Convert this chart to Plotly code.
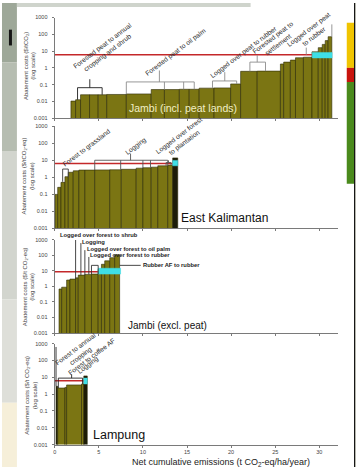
import numpy as np
import plotly.graph_objects as go

# ---------------- data ----------------
# Panel 1: Jambi (incl. peat lands) - bar edges (cumulative t CO2-eq/ha/yr) and abatement cost ($/t)
jambi_peat_edges = [1.84, 2.37, 2.93, 3.95, 4.93, 5.90, 8.12, 10.94, 12.44, 14.13, 15.25, 16.38,
                    18.07, 19.95, 21.08, 22.96, 25.59, 25.96, 26.72, 27.3, 28.2, 29.17, 29.88,
                    30.33, 30.67, 31.0, 31.42]
jambi_peat_costs = [0.0105, 0.0126, 0.025, 0.025, 0.025, 0.026, 0.028, 0.051, 0.051, 0.053, 0.053,
                    0.062, 0.064, 0.11, 0.62, 0.64, 1.7, 2.2, 2.9, 4.0, 4.3, 9.0, 16, 25, 42, 72]

# Panel 2: East Kalimantan
ekal_edges = [0.04, 0.34, 0.71, 1.16, 1.54, 2.1, 2.74, 3.42, 4.54, 6.24, 7.55, 9.24, 10.0,
              10.94, 11.69, 12.82, 13.38, 13.95]
ekal_costs = [0.1, 0.26, 0.51, 1.1, 2.0, 2.45, 2.7, 2.7, 2.75, 2.8, 3.0, 3.5, 3.7, 4.0, 4.8, 5.3, 14]

# Panel 3: Jambi (excl. peat)
jambi_excl_edges = [0.49, 0.79, 1.35, 1.73, 2.37, 2.67, 3.42, 4.17, 4.93, 5.30, 5.67, 6.24, 6.80, 7.36]
jambi_excl_costs = [0.69, 0.9, 2.6, 3.0, 3.6, 5.4, 6.0, 6.3, 13, 27, 45, 72, 110]

# Panel 4: Lampung
lampung_edges = [0.15, 0.34, 1.16, 1.35, 3.04, 3.3, 3.69]
lampung_costs = [2.9, 2.3, 2.5, 3.5, 4.0, 12]

# carbon-price reference line per panel: (cost level, end of line on x)
price_level = [6.1, 6.5, 8.9, 6.2]
price_end = [29.17, 13.38, 4.93, 3.3]

# cyan highlighted boxes: (x0, x1, y0, y1)
cyan_boxes = [(29.2, 31.45, 3.9, 8.3), (13.38, 13.95, 4.8, 10), (4.93, 7.47, 6.3, 15), (3.3, 3.69, 4.0, 8.9)]

region_names = ["Jambi (incl. peat lands)", "East Kalimantan", "Jambi (excl. peat)", "Lampung"]

y_tick_vals = [0.001, 0.01, 0.1, 1, 10, 100, 1000]
y_tick_text = ["0.001", "0.01", "0.1", "1", "10", "100", "1000"]
x_tick_vals = [0, 5, 10, 15, 20, 25, 30]

# ---------------- styling ----------------
W, H = 356, 470
OLIVE = '#7b7513'
EDGE = '#2b2a05'
DARKBAR = '#1c1c08'
RED = '#c4282a'
CYAN = '#3fdfe6'
GRAY = '#8c8c8c'
BLK = '#2a2a2a'
FONT = 'Liberation Sans, Arial, sans-serif'
AX = '#7a7a7a'

XL, XR = 53, 338
XMAX = (XR - XL) / 8.87
panel_px = [(14.7, 116.7), (125, 228.3), (240, 334.3), (345, 447.3)]
dark_bars = {1: [16], 3: [0, 5]}

edges_all = [jambi_peat_edges, ekal_edges, jambi_excl_edges, lampung_edges]
costs_all = [jambi_peat_costs, ekal_costs, jambi_excl_costs, lampung_costs]

fig = go.Figure()
layout = dict(width=W, height=H, margin=dict(l=0, r=0, t=0, b=0), autosize=False,
              paper_bgcolor='white', plot_bgcolor='rgba(0,0,0,0)', showlegend=False,
              barmode='overlay', font=dict(family=FONT, color=BLK))

def ax_names(i):
    s = '' if i == 0 else str(i + 1)
    return 'x' + s, 'y' + s, 'xaxis' + s, 'yaxis' + s

for i, (top, bot) in enumerate(panel_px):
    xn, yn, xk, yk = ax_names(i)
    layout[xk] = dict(domain=[XL / W, XR / W], range=[0, XMAX], anchor=yn, showline=True,
                      linecolor=AX, linewidth=1.2, ticks='outside', ticklen=2, tickcolor=AX,
                      tickvals=x_tick_vals, showticklabels=(i == 3), tickfont=dict(size=5.5, color='#444'),
                      showgrid=False, zeroline=False, fixedrange=True)
    layout[yk] = dict(domain=[1 - bot / H, 1 - top / H], type='log', range=[-3, 3], anchor=xn,
                      showline=True, linecolor=AX, linewidth=1.2, ticks='outside', ticklen=2,
                      tickcolor=AX, tickvals=y_tick_vals, ticktext=y_tick_text,
                      tickfont=dict(size=5.5, color='#444'), ticklabelstandoff=3,
                      showgrid=False, zeroline=False, fixedrange=True)
    e = np.array(edges_all[i], dtype=float)
    c = list(costs_all[i])
    cols = [DARKBAR if k in dark_bars.get(i, []) else OLIVE for k in range(len(c))]
    fig.add_trace(go.Bar(x=e[:-1], y=c, width=np.diff(e), offset=0,
                         marker=dict(color=cols, line=dict(color=EDGE, width=0.6)),
                         xaxis=xn, yaxis=yn, hoverinfo='skip'))
    # price line
    fig.add_trace(go.Scatter(x=[0, price_end[i]], y=[price_level[i]] * 2, mode='lines',
                             line=dict(color=RED, width=1.4), xaxis=xn, yaxis=yn, hoverinfo='skip'))
    # cyan box
    x0, x1, y0, y1 = cyan_boxes[i]
    fig.add_trace(go.Scatter(x=[x0, x1, x1, x0, x0], y=[y0, y0, y1, y1, y0], mode='lines',
                             fill='toself', fillcolor=CYAN, line=dict(color=CYAN, width=0.5),
                             xaxis=xn, yaxis=yn, hoverinfo='skip'))

# ---------------- brackets & leaders ----------------
def bracket(legs, bottoms, top, stem=None):
    xs, ys = [legs[0], legs[-1], None], [top, top, None]
    for lx, b in zip(legs, bottoms):
        xs += [lx, lx, None]
        ys += [b, top, None]
    if stem:
        xs += [stem[0], stem[0], None]
        ys += [top, stem[1], None]
    return xs, ys

brackets = [
    (0, bracket([2.59, 5.38], [0.0126, 0.025], 0.066, (3.98, 0.21)), '#1e1e1e'),
    (0, bracket([8.12, 12.44, 14.62, 15.82], [0.027, 0.051, 0.053, 0.053], 0.145, (11.87, 0.7)), GRAY),
    (0, bracket([17.89, 20.63], [0.064, 0.11], 0.166, (19.28, 0.56)), GRAY),
    (0, bracket([22.13, 23.9], [0.62, 0.64], 2.2, (22.96, 5.8)), GRAY),
    (0, ([28.52, 28.52, None, 31.42, 31.42], [6.1, 16, None, 72, 390]), GRAY),
    (1, bracket([0.9, 1.54], [0.55, 1.1], 3.1), '#3a3a3a'),
    (1, bracket([4.54, 7.48, 10.0, 10.86, 12.82], [2.7, 2.8, 3.5, 3.7, 4.8], 10.2, (8.6, 25)), '#555555'),
    (1, bracket([12.63, 13.19], [4.8, 5.3], 7.5, (12.9, 10)), '#555555'),
    (2, bracket([4.17, 4.93], [6.3, 6.3], 23), '#333333'),
    (2, ([2.37, 2.37, None, 2.97, 2.97, None, 3.42, 3.42, None, 3.87, 3.87, None, 7.36, 9.75],
         [1000, 3.0, None, 630, 5.4, None, 220, 5.4, None, 80, 6.0, None, 23, 23]), '#333333'),
    (3, bracket([0.41, 3.16], [2.3, 4.0], 8.9, (1.92, 15)), '#222222'),
    (3, ([0.15, 0.15], [2.9, 630]), '#222222'),
]
for i, (xs, ys), col in brackets:
    xn, yn, _, _ = ax_names(i)
    fig.add_trace(go.Scatter(x=xs, y=ys, mode='lines', line=dict(color=col, width=0.9),
                             xaxis=xn, yaxis=yn, hoverinfo='skip'))

# ---------------- text ----------------
ann = []
def rot(i, text, x, ylog, size=6.7, angle=-37):
    xn, yn, _, _ = ax_names(i)
    ann.append(dict(text=text, x=x, y=ylog, xref=xn, yref=yn, showarrow=False, textangle=angle,
                    xanchor='center', yanchor='middle',
                    font=dict(size=size, color='#2a2a2a', family=FONT)))

rot(0, "Forested peat to annual<br>cropping and shrub", 5.75, 1.08)
rot(0, "Forested peat to oil palm", 13.75, 0.92)
rot(0, "Logged over peat to rubber", 21.46, 0.95)
rot(0, "Forested peat to<br>settlement", 25.03, 1.61)
rot(0, "Logged over peat<br>to rubber", 29.05, 2.1)
rot(1, "Forest to grassland", 3.61, 1.74)
rot(1, "Logging", 9.24, 1.84)
rot(1, "Logged over forest<br>to plantation", 14.4, 2.23)
rot(3, "Forest to annual<br>cropping", 2.74, 2.47)
rot(3, "Forest to coffee AF", 4.17, 2.26)
rot(3, "Logging", 3.8, 1.73)

def flat(i, text, x, ylog):
    xn, yn, _, _ = ax_names(i)
    ann.append(dict(text=text, x=x, y=ylog, xref=xn, yref=yn, showarrow=False, xanchor='left',
                    yanchor='middle', font=dict(size=5.8, color='#222', family=FONT)))

# top label sits above the panel's range, so place it in paper units
ann.append(dict(text="<b>Logged over forest to shrub</b>", x=0.34, xref='x3', y=1 - 234.5 / H, yref='paper',
                showarrow=False, xanchor='left', yanchor='middle',
                font=dict(size=5.8, color='#222', family=FONT)))
flat(2, "<b>Logging</b>", 2.85, 2.88)
flat(2, "<b>Logged over forest to oil palm</b>", 3.42, 2.43)
flat(2, "<b>Logged over forest to rubber</b>", 3.8, 2.0)
flat(2, "<b>Rubber AF to rubber</b>", 9.8, 1.37)

region_pos = [(8.23, -2.41, 10.5, '#f1efc6'), (14.1, -2.4, 12, '#111'), (8.1, -2.52, 10, '#111'),
              (4.17, -2.41, 12.5, '#111')]
for i, name in enumerate(region_names):
    xn, yn, _, _ = ax_names(i)
    x, ylog, sz, col = region_pos[i]
    ann.append(dict(text=name, x=x, y=ylog, xref=xn, yref=yn, showarrow=False, xanchor='left',
                    yanchor='middle', font=dict(size=sz, color=col, family=FONT)))

ytitles = ["Abatement costs ($/tCO<sub>2</sub>)<br>(log scale)",
           "Abatement costs ($/tCO<sub>2</sub>-eq)<br>(log scale)",
           "Abatement costs ($/t CO<sub>2</sub>-eq)<br>(log scale)",
           "Abatement costs ($/t CO<sub>2</sub>-eq)<br>(log scale)"]
ytitle_px = [(28, 64), (26, 175), (27, 287), (29, 397)]
for t, (px, py) in zip(ytitles, ytitle_px):
    ann.append(dict(text=t, x=px / W, y=1 - py / H, xref='paper', yref='paper', showarrow=False,
                    xanchor='center', yanchor='middle', textangle=-90,
                    font=dict(size=6, color='#444', family=FONT)))

ann.append(dict(text="Net cumulative emissions (t CO<sub>2</sub>-eq/ha/year)", x=220 / W, y=1 - 465 / H,
                xref='paper', yref='paper', showarrow=False, xanchor='center', yanchor='middle',
                font=dict(size=9, color='#222', family=FONT)))

# ---------------- surroundings (photo edges, colour bar) ----------------
def prect(x0, y0, x1, y1, col):
    return dict(type='rect', xref='paper', yref='paper', x0=x0 / W, x1=x1 / W, y0=1 - y1 / H, y1=1 - y0 / H,
                fillcolor=col, line=dict(width=0), layer='above')

shapes = [
    prect(0, 0, 15, 60, '#9ea899'),
    prect(0, 60, 15, 150, '#b6bdb1'),
    prect(0, 150, 15, 300, '#d2d5ce'),
    prect(0, 300, 15, 405, '#dedfd9'),
    prect(0, 405, 15, 470, '#f6efd9'),
    prect(7, 27, 10, 43, '#151515'),
    prect(15, 0, 250, 4, '#cfd4cc'),
    prect(346.7, 20, 354, 65.7, '#f0c400'),
    prect(346.7, 65.7, 354, 80, '#c8140c'),
    prect(346.7, 80, 354, 183, '#4a8a1c'),
    prect(354, 0, 355.4, 470, '#151515'),
    prect(355.4, 0, 356, 470, '#c4c4b4'),
]
layout['shapes'] = shapes
layout['annotations'] = ann
fig.update_layout(**layout)

fig.write_html("out.html", config={'displayModeBar': False},
               post_script="document.body.style.margin='0';document.body.style.overflow='hidden';")
